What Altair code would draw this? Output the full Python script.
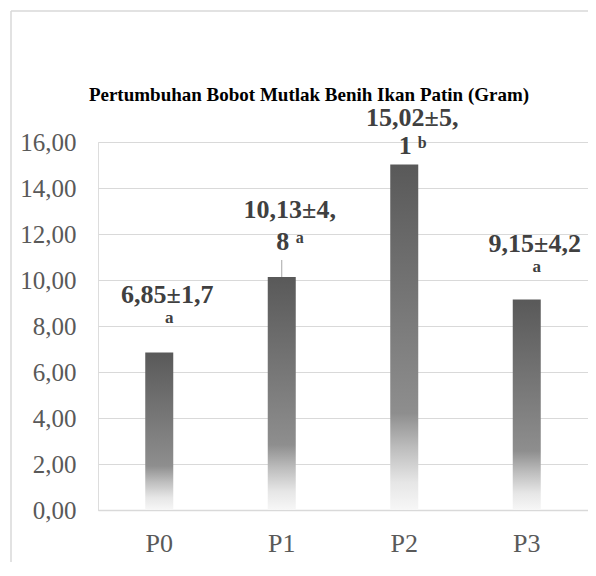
import altair as alt
import pandas as pd

categories = ["P0", "P1", "P2", "P3"]
means = [6.85, 10.13, 15.02, 9.15]

# value labels (line 1), and where they sit (in axis units)
label_line1 = ["6,85±1,7", "10,13±4,", "15,02±5,", "9,15±4,2"]
label_line1_at = [9.0, 12.70, 16.70, 11.22]

# second line: large digits that wrapped
wrap_cats = ["P1", "P2"]
wrap_text = ["8", "1"]
wrap_at = [11.30, 15.48]

# superscript letters next to wrapped digits
sup_cats = ["P1", "P2"]
sup_text = ["a", "b"]
sup_at = [11.61, 15.74]

# letters alone on second line
let_cats = ["P0", "P3"]
let_text = ["a", "a"]
let_at = [8.13, 10.35]

# leader line for P1 label
leader_cat = ["P1"]
leader_from = [10.13]
leader_to = [10.87]

title_text = ["Pertumbuhan Bobot Mutlak Benih Ikan Patin (Gram)"]
yticks = [0, 2, 4, 6, 8, 10, 12, 14, 16]

bars_df = pd.DataFrame({"cat": categories, "val": means})
l1_df = pd.DataFrame({"cat": categories, "txt": label_line1, "at": label_line1_at})
wrap_df = pd.DataFrame({"cat": wrap_cats, "txt": wrap_text, "at": wrap_at})
sup_df = pd.DataFrame({"cat": sup_cats, "txt": sup_text, "at": sup_at})
let_df = pd.DataFrame({"cat": let_cats, "txt": let_text, "at": let_at})
lead_df = pd.DataFrame({"cat": leader_cat, "a": leader_from, "b": leader_to})
title_df = pd.DataFrame({"t": title_text})

FONT = "Liberation Serif"
LAB = "#404040"

xscale = alt.Scale(domain=categories, paddingInner=0, paddingOuter=0)
yscale = alt.Scale(domain=[0, 16], nice=False, zero=True)

x_axis = alt.Axis(
    title=None, labelFont=FONT, labelFontSize=26, labelColor="#595959",
    labelPadding=20, ticks=False, domain=True, domainColor="#d9d9d9",
    domainWidth=1.5, grid=False, labelAngle=0,
)
y_axis = alt.Axis(
    title=None, values=yticks,
    labelExpr="replace(format(datum.value, '.2f'), '.', ',')",
    labelFont=FONT, labelFontSize=25, labelColor="#595959", labelPadding=22,
    ticks=False, domain=False, grid=True, gridColor="#d9d9d9", gridWidth=1.2,
)

grad = alt.Gradient(
    gradient="linear", x1=0, x2=0, y1=0, y2=1,
    stops=[
        alt.GradientStop(color="#595959", offset=0),
        alt.GradientStop(color="#858585", offset=0.6),
        alt.GradientStop(color="#8e8e8e", offset=0.72),
        alt.GradientStop(color="#bdbdbd", offset=0.82),
        alt.GradientStop(color="#e6e6e6", offset=0.92),
        alt.GradientStop(color="#f7f7f7", offset=1),
    ],
)

bars = alt.Chart(bars_df).mark_bar(size=28, color=grad).encode(
    x=alt.X("cat:N", scale=xscale, axis=x_axis, sort=categories),
    y=alt.Y("val:Q", scale=yscale, axis=y_axis),
)

# chart-area frame: only its top and left edges fall inside the picture
frame_top = alt.Chart(title_df).mark_rule(color="#d9d9d9", strokeWidth=1.5).encode(
    x=alt.value(-87), x2=alt.value(490), y=alt.value(-131)
)
frame_left = alt.Chart(title_df).mark_rule(color="#d9d9d9", strokeWidth=1.5).encode(
    x=alt.value(-87), y=alt.value(-131), y2=alt.value(420)
)

title = alt.Chart(title_df).mark_text(
    font=FONT, fontSize=19, fontWeight="bold", color="#000000",
    baseline="alphabetic", align="center",
).encode(x=alt.value(211), y=alt.value(-41), text="t:N")

l1 = alt.Chart(l1_df).mark_text(
    font=FONT, fontSize=26, fontWeight="bold", color=LAB, baseline="alphabetic", dx=8
).encode(x=alt.X("cat:N", sort=categories), y=alt.Y("at:Q"), text="txt:N")

wrap = alt.Chart(wrap_df).mark_text(
    font=FONT, fontSize=26, fontWeight="bold", color=LAB, baseline="alphabetic", dx=1
).encode(x=alt.X("cat:N", sort=categories), y=alt.Y("at:Q"), text="txt:N")

sup = alt.Chart(sup_df).mark_text(
    font=FONT, fontSize=16, fontWeight="bold", color=LAB, baseline="alphabetic", dx=18
).encode(x=alt.X("cat:N", sort=categories), y=alt.Y("at:Q"), text="txt:N")

let = alt.Chart(let_df).mark_text(
    font=FONT, fontSize=17, fontWeight="bold", color=LAB, baseline="alphabetic", dx=10
).encode(x=alt.X("cat:N", sort=categories), y=alt.Y("at:Q"), text="txt:N")

lead = alt.Chart(lead_df).mark_rule(color="#a6a6a6", strokeWidth=1).encode(
    x=alt.X("cat:N", sort=categories), y=alt.Y("a:Q"), y2="b:Q"
)

chart = alt.layer(frame_top, frame_left, bars, lead, title, l1, wrap, sup, let).properties(
    width=490, height=368,
    autosize=alt.AutoSizeParams(type="none"),
    padding={"left": 90, "top": 134, "right": 0, "bottom": 52},
).configure_view(stroke=None).configure(background="white")

chart.save("out.html", embed_options={"renderer": "svg", "actions": False})
